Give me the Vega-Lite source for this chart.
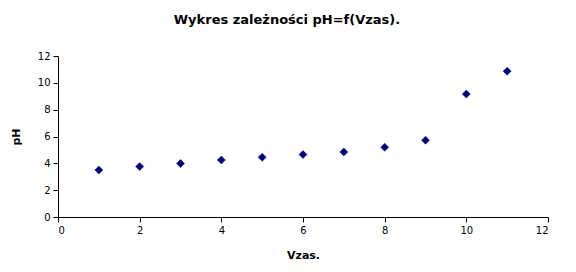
{
  "$schema": "https://vega.github.io/schema/vega-lite/v6.json",
  "autosize": "none",
  "width": 490,
  "height": 161,
  "padding": {"left": 58, "top": 56, "right": 28, "bottom": 55},
  "background": "white",
  "title": {
    "text": "Wykres zależności pH=f(Vzas).",
    "font": "DejaVu Sans",
    "fontSize": 13,
    "fontWeight": "bold",
    "color": "black",
    "anchor": "middle",
    "frame": "group",
    "offset": 24,
    "dx": -16
  },
  "data": {
    "values": [
      {"Vzas": 1, "pH": 3.5},
      {"Vzas": 2, "pH": 3.76},
      {"Vzas": 3, "pH": 3.98},
      {"Vzas": 4, "pH": 4.25},
      {"Vzas": 5, "pH": 4.45},
      {"Vzas": 6, "pH": 4.65},
      {"Vzas": 7, "pH": 4.85},
      {"Vzas": 8, "pH": 5.2},
      {"Vzas": 9, "pH": 5.72},
      {"Vzas": 10, "pH": 9.16},
      {"Vzas": 11, "pH": 10.87}
    ]
  },
  "mark": {"type": "point", "shape": "diamond", "filled": true, "color": "#000080", "size": 64, "opacity": 1, "stroke": "#00006a", "strokeWidth": 0.5},
  "encoding": {
    "x": {
      "field": "Vzas", "type": "quantitative",
      "scale": {"domain": [0, 12], "nice": false, "zero": true},
      "axis": {"values": [0, 2, 4, 6, 8, 10, 12], "title": "Vzas.", "titlePadding": 14}
    },
    "y": {
      "field": "pH", "type": "quantitative",
      "scale": {"domain": [0, 12], "nice": false},
      "axis": {"values": [0, 2, 4, 6, 8, 10, 12], "title": "pH", "titlePadding": 16}
    }
  },
  "config": {
    "view": {"stroke": null},
    "axis": {
      "grid": false,
      "domainColor": "black",
      "tickColor": "black",
      "tickSize": 5,
      "labelFont": "DejaVu Sans",
      "labelFontSize": 10,
      "labelColor": "black",
      "labelPadding": 3,
      "titleFont": "DejaVu Sans",
      "titleFontSize": 11,
      "titleFontWeight": "bold",
      "titleColor": "black"
    }
  }
}
